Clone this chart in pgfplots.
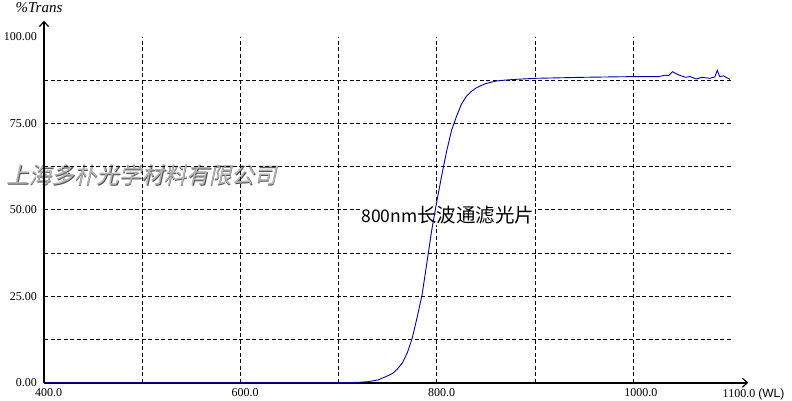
\documentclass[border=0pt]{standalone}
\usepackage{pgfplots}
\pgfplotsset{compat=1.18}
\usetikzlibrary{arrows.meta}
\usepackage{fontspec}
\setmainfont{Liberation Serif}
\newfontfamily\sans{Liberation Sans}
\newfontfamily\cjk{Noto Sans CJK SC}
\newfontfamily\cjkslant[FakeSlant=0.22]{Noto Sans CJK SC}
\definecolor{curve}{RGB}{0,0,170}
\definecolor{wmfill}{RGB}{180,180,180}
\definecolor{wmedge}{RGB}{80,80,80}

\begin{document}
\begin{tikzpicture}
\useasboundingbox (0pt,0pt) rectangle (792pt,400pt);
% watermark, behind everything
\node[font=\cjkslant\fontsize{22.5}{24}\selectfont, text=wmedge] at (142.3pt,224.2pt) {上海多朴光学材料有限公司};
\node[font=\cjkslant\fontsize{22.5}{24}\selectfont, text=wmfill] at (141.5pt,225pt) {上海多朴光学材料有限公司};
\node[font=\itshape\fontsize{15}{17}\selectfont, inner sep=0pt] at (39pt,392pt) {\%Trans};
\begin{axis}[
    at={(44pt,17.3pt)}, anchor=south west,
    scale only axis, width=704.3pt, height=362pt,
    xmin=400, xmax=1117.1, ymin=0, ymax=104.66,
    axis lines=left,
    axis line style={line width=1.6pt, -{Straight Barb[length=5pt,width=9pt,line width=1.2pt]}},
    clip=false,
    major tick length=0pt,
    xtick={400,600,800,1000,1100},
    xticklabels={400.0,600.0,800.0,1000.0,{1100.0 {\sans (WL)}}},
    ytick={0,25,50,75,100},
    yticklabels={0.00,25.00,50.00,75.00,100.00},
    tick label style={font=\fontsize{12}{14}\selectfont, inner sep=0pt},
    x tick label style={anchor=north west, xshift=-9pt, yshift=-5.5pt},
    y tick label style={anchor=east, xshift=-7pt},
]
% grid
\draw[dash pattern=on 4pt off 2.5pt, line width=0.8pt] (axis cs:400,12.5) -- (axis cs:1101,12.5);
\draw[dash pattern=on 4pt off 2.5pt, line width=0.8pt] (axis cs:400,25) -- (axis cs:1101,25);
\draw[dash pattern=on 4pt off 2.5pt, line width=0.8pt] (axis cs:400,37.5) -- (axis cs:1101,37.5);
\draw[dash pattern=on 4pt off 2.5pt, line width=0.8pt] (axis cs:400,50) -- (axis cs:1101,50);
\draw[dash pattern=on 4pt off 2.5pt, line width=0.8pt] (axis cs:400,62.5) -- (axis cs:1101,62.5);
\draw[dash pattern=on 4pt off 2.5pt, line width=0.8pt] (axis cs:400,75) -- (axis cs:1101,75);
\draw[dash pattern=on 4pt off 2.5pt, line width=0.8pt] (axis cs:400,87.5) -- (axis cs:1101,87.5);
\draw[dash pattern=on 4pt off 2.5pt, line width=0.8pt] (axis cs:500,0) -- (axis cs:500,100);
\draw[dash pattern=on 4pt off 2.5pt, line width=0.8pt] (axis cs:600,0) -- (axis cs:600,100);
\draw[dash pattern=on 4pt off 2.5pt, line width=0.8pt] (axis cs:700,0) -- (axis cs:700,100);
\draw[dash pattern=on 4pt off 2.5pt, line width=0.8pt] (axis cs:800,0) -- (axis cs:800,100);
\draw[dash pattern=on 4pt off 2.5pt, line width=0.8pt] (axis cs:900,0) -- (axis cs:900,100);
\draw[dash pattern=on 4pt off 2.5pt, line width=0.8pt] (axis cs:1000,0) -- (axis cs:1000,100);
% title label
\node[fill=white, inner sep=1pt] at (axis cs:811.3,48.5)
    {\cjk{\fontsize{17.5}{20}\selectfont 800nm}{\fontsize{19.5}{20}\selectfont 长波通滤光片}};
\addplot[curve, line width=0.9pt] coordinates {
(400,0) (700,0) (720,0.1) (730,0.3) (740,0.8) (745,1.4) (750,2.0) (755,2.7)
(760,4.0) (765,5.8) (770,8.7) (775,13) (780,19) (785,25.5) (790,35) (795,44.5)
(800,52.5) (805,60) (810,67) (815,73) (820,77) (825,80.5) (830,82.8) (835,84.2)
(840,85.2) (845,85.9) (850,86.5) (860,87.2) (870,87.5) (880,87.7) (900,88.0)
(950,88.3) (1000,88.5) (1026,88.5) (1032,88.9) (1036,88.8) (1040,89.9)
(1046,89.0) (1053,88.3) (1058,88.5) (1064,87.8) (1070,88.3) (1078,88.0)
(1083,88.4) (1085.5,90.3) (1088,88.5) (1092,88.7) (1095,88.2) (1098.5,87.7)
};
\end{axis}
\end{tikzpicture}
\end{document}
